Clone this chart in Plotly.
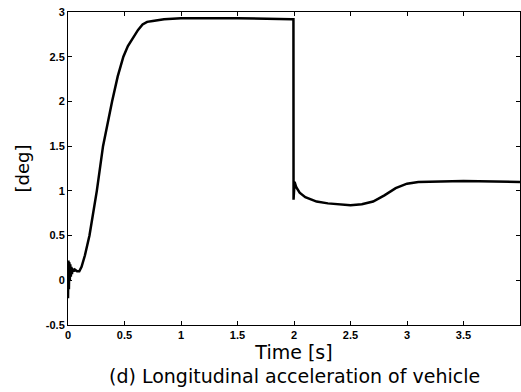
import plotly.graph_objects as go

time_s = [0, 0.004, 0.008, 0.012, 0.016, 0.02, 0.025, 0.03, 0.035, 0.04, 0.05, 0.06, 0.08, 0.1,
          0.12, 0.15, 0.19, 0.22, 0.255, 0.31, 0.35, 0.39, 0.44, 0.49, 0.53, 0.57, 0.62, 0.66,
          0.7, 0.75, 0.85, 1.0, 1.5, 1.98, 1.995, 1.996, 2.005, 2.02, 2.05, 2.1, 2.2, 2.3, 2.4,
          2.5, 2.6, 2.7, 2.8, 2.9, 3.0, 3.1, 3.5, 4.0]
angle_deg = [-0.2, 0.22, -0.1, 0.2, 0.0, 0.18, 0.04, 0.15, 0.07, 0.13, 0.1, 0.12, 0.1, 0.1,
             0.15, 0.28, 0.5, 0.72, 1.0, 1.5, 1.77, 2.0, 2.28, 2.5, 2.62, 2.7, 2.8, 2.86,
             2.89, 2.9, 2.92, 2.93, 2.93, 2.92, 2.92, 0.9, 1.1, 1.04, 0.98, 0.93, 0.88, 0.86, 0.85,
             0.84, 0.85, 0.88, 0.95, 1.03, 1.08, 1.1, 1.11, 1.1]

x_ticks = [0, 0.5, 1, 1.5, 2, 2.5, 3, 3.5, 4]
x_tick_text = ["0", "0.5", "1", "1.5", "2", "2.5", "3", "3.5", "4"]
y_ticks = [-0.5, 0, 0.5, 1, 1.5, 2, 2.5, 3]
y_tick_text = ["-0.5", "0", "0.5", "1", "1.5", "2", "2.5", "3"]

fig = go.Figure()
fig.add_trace(go.Scatter(x=time_s, y=angle_deg, mode="lines",
                         line=dict(color="black", width=2.5), showlegend=False))

tick_font = dict(family="Liberation Sans, Arial", size=11, color="black", weight="bold")
title_font = dict(family="DejaVu Sans", size=19, color="black")
fig.update_layout(
    width=521, height=392,
    margin=dict(l=68, r=1, t=12, b=67),
    paper_bgcolor="white", plot_bgcolor="white",
    xaxis=dict(range=[0, 4], tickvals=x_ticks, ticktext=x_tick_text,
               showgrid=False, zeroline=False, showline=True, linecolor="black",
               linewidth=1, mirror="ticks", ticks="inside", ticklen=4, tickcolor="black",
               tickfont=tick_font, ticklabelstandoff=0,
               title=dict(text="Time [s]", standoff=4, font=title_font)),
    yaxis=dict(range=[-0.5, 3], tickvals=y_ticks, ticktext=y_tick_text,
               showgrid=False, zeroline=False, showline=True, linecolor="black",
               linewidth=1, mirror="ticks", ticks="inside", ticklen=4, tickcolor="black",
               tickfont=tick_font,
               title=dict(text="[deg]", standoff=11, font=dict(family="DejaVu Sans", size=18, color="black"))),
    annotations=[dict(text="(d) Longitudinal acceleration of vehicle", xref="paper", yref="paper",
                      x=0.5, y=0, yshift=-51, yanchor="middle", showarrow=False,
                      font=title_font)],
)
fig.write_html("out.html")
